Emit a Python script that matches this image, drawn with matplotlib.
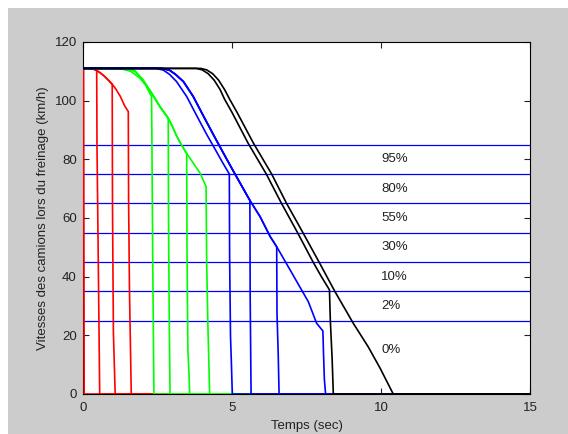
import matplotlib.pyplot as plt
import matplotlib.patches as patches

plt.rcParams['font.family'] = ['Liberation Sans', 'DejaVu Sans']

# trajectoires de freinage (temps en s, vitesse en km/h)
R_t = [0, 0.25, 0.4, 0.55, 0.7, 0.85, 0.98, 1.1, 1.25, 1.4, 1.52]
R_v = [111, 111, 110.6, 109.7, 108.5, 107, 105.6, 104, 101.5, 98.2, 96.3]

G1_t = [0, 1.3, 1.6, 1.9, 2.1, 2.3]
G1_v = [111, 110.8, 110, 107.8, 105.3, 101.4]
G2_t = [0, 1.5, 1.75, 2.0, 2.3, 2.58, 2.86, 3.0, 3.14, 3.3, 3.48, 3.7, 3.93, 4.13]
G2_v = [111, 111, 110, 107.2, 102.6, 98, 94, 91.2, 88, 85, 82, 78.7, 75.3, 70.7]

B1_t = [0, 2.45, 2.7, 2.9, 3.14, 3.48, 3.82, 4.15, 4.43, 4.65, 4.91]
B1_v = [111, 111, 110.4, 109, 106.5, 101.4, 94.8, 88.5, 83.5, 79.5, 75]
B2_t = [0, 2.65, 2.9, 3.1, 3.37, 3.7, 4.04, 4.37, 4.6, 4.88, 5.1, 5.35, 5.6,
        5.94, 6.28, 6.5, 6.95, 7.22, 7.56, 7.84, 8.05]
B2_v = [111, 111, 110.4, 109, 106.5, 101.4, 94.8, 88.5, 84.2, 79, 75, 70.5, 66,
        60.5, 53.7, 50.2, 42.3, 37.5, 31.5, 24.1, 21.5]

K1_t = [0, 3.8, 4.0, 4.2, 4.4, 4.6, 4.75, 5.0, 5.54, 6.15, 6.66, 7.2, 7.72, 8.0, 8.27]
K1_v = [111, 111, 110.5, 109.2, 107, 103.8, 100.5, 96, 85.5, 75, 65, 55, 45, 40, 35.5]
K2_t = [0, 3.95, 4.15, 4.35, 4.55, 4.75, 4.92, 5.17, 5.72, 6.33, 6.83, 7.38,
        7.92, 8.45, 9.07, 9.57, 9.97, 10.41]
K2_v = [111, 111, 110.5, 109.2, 107, 103.8, 100.5, 96, 85.5, 75, 65, 55,
        45, 35, 24.1, 16.1, 8.8, 0]

# chute de vitesse au choc : (t, v) depuis l'instant d'impact
chocs_rouge = [
    [(0.02, 111), (0.04, 0)],
    [(0.46, 110.2), (0.47, 84), (0.50, 57), (0.53, 29), (0.56, 0)],
    [(0.98, 105.6), (0.99, 64), (1.02, 21), (1.05, 10.5), (1.08, 0)],
    [(1.52, 96.3), (1.53, 66), (1.56, 35), (1.59, 17.4), (1.62, 0)],
]
chocs_vert1 = [
    [(2.30, 101.4), (2.31, 90), (2.34, 45), (2.38, 0)],
]
chocs_vert2 = [
    [(2.86, 94), (2.87, 60), (2.89, 31), (2.92, 0)],
    [(3.48, 82), (3.49, 49), (3.52, 15), (3.55, 8.7), (3.58, 0)],
    [(4.13, 70.7), (4.15, 45), (4.19, 24), (4.25, 0)],
]
chocs_bleu1 = [
    [(4.91, 75), (4.92, 47), (4.95, 19.5), (4.98, 10.5), (5.01, 0)],
]
chocs_bleu2 = [
    [(5.60, 66), (5.61, 33), (5.64, 0)],
    [(6.50, 50.2), (6.51, 27.5), (6.55, 13.9), (6.58, 0)],
    [(8.05, 21.5), (8.07, 14), (8.10, 5), (8.14, 0)],
]
chocs_noir1 = [
    [(8.27, 35.5), (8.30, 25), (8.36, 12), (8.40, 0)],
]

seuils = [25, 35, 45, 55, 65, 75, 85]
pourcents = ['95%', '80%', '55%', '30%', '10%', '2%', '0%']
pourcents_y = [80, 70, 60, 50, 40, 30, 15]

T_FIN = 15
LW = 1.2


def trace(ax, tt, vv, choc, couleur):
    t = [x for x in tt if x < choc[0][0]]
    v = vv[:len(t)]
    t = t + [p[0] for p in choc] + [T_FIN]
    v = v + [p[1] for p in choc] + [0]
    ax.plot(t, v, color=couleur, lw=LW, zorder=3)


fig = plt.figure(figsize=(5.68, 4.34), dpi=100, facecolor='white')
fig.patches.append(patches.Rectangle((8 / 568, 0), 1, 1 - 8 / 434,
                                     transform=fig.transFigure,
                                     facecolor='#cccccc', edgecolor='none', zorder=-10))
ax = fig.add_axes([83 / 568, 40 / 434, 447 / 568, 352 / 434])
ax.set_facecolor('white')

for s in seuils:
    ax.axhline(s, color='blue', lw=0.9, zorder=2)

for c in chocs_rouge:
    trace(ax, R_t, R_v, c, 'red')
for c in chocs_vert1:
    trace(ax, G1_t, G1_v, c, '#00ff00')
for c in chocs_vert2:
    trace(ax, G2_t, G2_v, c, '#00ff00')
for c in chocs_bleu1:
    trace(ax, B1_t, B1_v, c, 'blue')
for c in chocs_bleu2:
    trace(ax, B2_t, B2_v, c, 'blue')
for c in chocs_noir1:
    trace(ax, K1_t, K1_v, c, 'black')
ax.plot(K2_t + [T_FIN], K2_v + [0], color='black', lw=LW, zorder=3)

for txt, y in zip(pourcents, pourcents_y):
    ax.text(10, y, txt, fontsize=9.5, color='#222222', ha='left', va='center')

ax.set_xlim(0, 15)
ax.set_ylim(0, 120)
ax.set_xticks([0, 5, 10, 15])
ax.set_yticks([0, 20, 40, 60, 80, 100, 120])
ax.tick_params(direction='in', length=4, width=0.8, top=True, right=True,
               labelsize=9.5, colors='#222222')
ax.tick_params(axis='x', pad=6)
ax.tick_params(axis='y', pad=4.5)
for sp in ax.spines.values():
    sp.set_linewidth(0.8)
ax.set_xlabel('Temps (sec)', fontsize=9.5, color='#222222', labelpad=4)
ax.set_ylabel('Vitesses des camions lors du freinage (km/h)', fontsize=9.5,
              color='#222222', labelpad=4)

fig.savefig('out.png', dpi=100, facecolor=fig.get_facecolor())
